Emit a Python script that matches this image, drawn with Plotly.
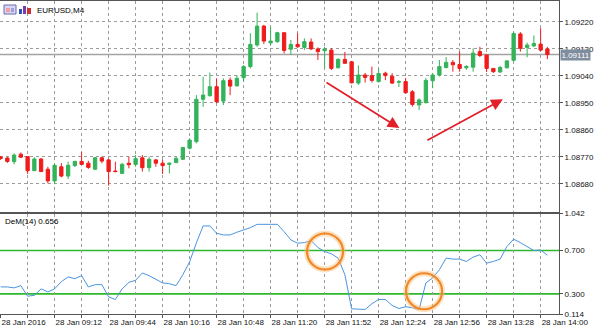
import pandas as pd
import plotly.graph_objects as go
from plotly.subplots import make_subplots

# ---------------- data ----------------
times = pd.date_range("2016-01-28 08:40", periods=82, freq="4min").strftime("%d %b %H:%M").tolist()

opens = [1.08770,1.08766,1.08754,1.08779,1.08771,1.08724,1.08763,1.08729,1.08690,1.08737,
         1.08706,1.08741,1.08755,1.08749,1.08729,1.08767,1.08760,1.08723,1.08715,1.08749,
         1.08745,1.08767,1.08734,1.08760,1.08749,1.08745,1.08751,1.08762,1.08799,1.08821,
         1.08962,1.08974,1.09004,1.08956,1.09026,1.09007,1.09034,1.09071,1.09143,1.09206,
         1.09150,1.09154,1.09184,1.09129,1.09145,1.09135,1.09153,1.09130,1.09124,1.09126,
         1.09067,1.09095,1.09087,1.09016,1.09043,1.09041,1.09021,1.09049,1.09039,1.09019,
         1.09021,1.08987,1.08943,1.08951,1.09024,1.09043,1.09068,1.09085,1.09078,1.09067,
         1.09069,1.09121,1.09110,1.09065,1.09053,1.09067,1.09092,1.09180,1.09135,1.09140,
         1.09146,1.09130]
highs = [1.08773,1.08770,1.08782,1.08785,1.08773,1.08769,1.08766,1.08737,1.08746,1.08749,
         1.08754,1.08757,1.08786,1.08757,1.08770,1.08771,1.08763,1.08754,1.08750,1.08771,
         1.08776,1.08776,1.08771,1.08763,1.08760,1.08751,1.08771,1.08804,1.08832,1.08976,
         1.09037,1.09051,1.09032,1.09032,1.09035,1.09043,1.09076,1.09182,1.09251,1.09210,
         1.09203,1.09187,1.09185,1.09160,1.09182,1.09165,1.09165,1.09135,1.09137,1.09132,
         1.09099,1.09120,1.09090,1.09075,1.09050,1.09071,1.09065,1.09054,1.09049,1.09026,
         1.09033,1.08993,1.08965,1.09033,1.09049,1.09093,1.09103,1.09093,1.09121,1.09076,
         1.09132,1.09137,1.09110,1.09066,1.09073,1.09093,1.09187,1.09186,1.09151,1.09175,
         1.09199,1.09137]
lows = [1.08760,1.08750,1.08745,1.08766,1.08713,1.08723,1.08720,1.08682,1.08679,1.08702,
        1.08696,1.08736,1.08743,1.08730,1.08726,1.08749,1.08674,1.08719,1.08713,1.08732,
        1.08737,1.08721,1.08721,1.08737,1.08713,1.08715,1.08749,1.08760,1.08795,1.08815,
        1.08937,1.08971,1.08949,1.08943,1.08976,1.09004,1.09021,1.09065,1.09137,1.09146,
        1.09143,1.09151,1.09115,1.09110,1.09134,1.09126,1.09126,1.09093,1.09065,1.09060,
        1.09065,1.09081,1.09015,1.09010,1.09018,1.09018,1.09018,1.09026,1.09013,1.09003,
        1.08981,1.08938,1.08926,1.08948,1.08999,1.09038,1.09065,1.09054,1.09054,1.09060,
        1.09054,1.09103,1.09053,1.09050,1.09050,1.09065,1.09088,1.09121,1.09102,1.09136,
        1.09123,1.09096]
closes = [1.08765,1.08755,1.08776,1.08769,1.08724,1.08763,1.08721,1.08690,1.08742,1.08706,
          1.08742,1.08755,1.08745,1.08735,1.08767,1.08756,1.08721,1.08721,1.08745,1.08744,
          1.08764,1.08734,1.08762,1.08749,1.08741,1.08749,1.08765,1.08801,1.08826,1.08962,
          1.08976,1.09004,1.08954,1.09024,1.09006,1.09032,1.09071,1.09145,1.09206,1.09156,
          1.09156,1.09184,1.09125,1.09145,1.09137,1.09154,1.09130,1.09121,1.09130,1.09065,
          1.09095,1.09082,1.09017,1.09043,1.09035,1.09025,1.09048,1.09041,1.09016,1.09021,
          1.08984,1.08945,1.08960,1.09025,1.09043,1.09071,1.09085,1.09077,1.09065,1.09071,
          1.09116,1.09108,1.09065,1.09054,1.09068,1.09090,1.09181,1.09132,1.09143,1.09148,
          1.09126,1.09111]
dem = [0.364,0.364,0.355,0.376,0.278,0.287,0.346,0.318,0.346,0.413,
       0.456,0.440,0.468,0.364,0.385,0.385,0.272,0.248,0.346,0.406,
       0.425,0.493,0.468,0.438,0.401,0.394,0.376,0.477,0.596,0.771,
       0.927,0.927,0.860,0.844,0.844,0.869,0.890,0.911,0.942,0.942,
       0.942,0.942,0.874,0.798,0.768,0.773,0.792,0.728,0.691,0.670,
       0.630,0.477,0.162,0.156,0.156,0.208,0.248,0.248,0.193,0.165,
       0.181,0.172,0.156,0.401,0.447,0.523,0.630,0.621,0.621,0.599,
       0.639,0.661,0.584,0.599,0.621,0.737,0.805,0.773,0.737,0.700,
       0.706,0.656]

price_ticks = [1.08680, 1.08770, 1.08860, 1.08950, 1.09040, 1.09130, 1.09220]
dem_ticks = [0.114, 0.300, 0.700, 1.042]
dem_levels = [0.300, 0.700]
label_bars = [0, 8, 16, 24, 32, 40, 48, 56, 64, 72, 80]
time_labels = ["28 Jan 2016", "28 Jan 09:12", "28 Jan 09:44", "28 Jan 10:16", "28 Jan 10:48",
               "28 Jan 11:20", "28 Jan 11:52", "28 Jan 12:24", "28 Jan 12:56", "28 Jan 13:28",
               "28 Jan 14:00"]
grid_bars = list(range(0, 82, 4))
symbol = "EURUSD,M4"
ind_name = "DeM(14)"
# arrows: (bar, price) tail -> head
arrows = [((48.06, 1.09021), (59.07, 1.08866)), ((63.0, 1.08823), (74.4, 1.08962))]
# circles in DeM panel: (bar, value)
circles = [(48.06, 0.691), (62.73, 0.324)]

# ---------------- layout helpers ----------------
W, H = 600, 332
ML, MR, MT, MB = 0, 41, 1, 18
PW, PH = W - ML - MR, H - MT - MB

def px_x(x):
    return (x - ML) / PW

def px_y(y):
    return (H - MB - y) / PH

FONT = "Liberation Sans, Arial, sans-serif"
GRID = "#9c9c9c"
AXL = "#555555"
GREEN = "#33b35a"
RED = "#f01c1c"

x = list(range(len(times)))

fig = make_subplots(rows=2, cols=1, shared_xaxes=True)

fig.add_trace(go.Candlestick(
    x=x, open=opens, high=highs, low=lows, close=closes, text=times,
    increasing=dict(line=dict(color=GREEN, width=1), fillcolor=GREEN),
    decreasing=dict(line=dict(color=RED, width=1), fillcolor=RED),
    whiskerwidth=0, showlegend=False, hoverinfo="skip"), row=1, col=1)

fig.add_trace(go.Scatter(
    x=x, y=dem, mode="lines", line=dict(color="#4a95e0", width=1),
    showlegend=False, hoverinfo="skip"), row=2, col=1)

xcommon = dict(range=[-0.09, 82.72], tickvals=grid_bars, showgrid=True, gridcolor=GRID,
               griddash="dot", gridwidth=1, zeroline=False, showline=True, mirror=True,
               linecolor=AXL, linewidth=1, rangeslider=dict(visible=False), fixedrange=True,
               automargin=False, tickangle=0)

tick_text = [time_labels[label_bars.index(b)] if b in label_bars else "" for b in grid_bars]

fig.update_layout(
    width=W, height=H, margin=dict(l=ML, r=MR, t=MT, b=MB, autoexpand=False),
    paper_bgcolor="white", plot_bgcolor="white",
    font=dict(family=FONT, size=8, color="#111111"),
    showlegend=False,
    xaxis=dict(**xcommon, showticklabels=False, ticks=""),
    xaxis2=dict(**xcommon, ticktext=tick_text, ticks="outside", ticklen=3, tickcolor=AXL,
                ticklabelposition="outside right", tickfont=dict(size=8)),
    yaxis=dict(domain=[px_y(212), 1], range=[1.085863, 1.092897], side="right",
               tickvals=price_ticks, ticktext=[f"{v:.5f}" for v in price_ticks],
               ticks="outside", ticklen=3, tickcolor=AXL, showgrid=True, gridcolor=GRID,
               griddash="dot", zeroline=False, showline=True, mirror=True, linecolor=AXL,
               linewidth=1, fixedrange=True, automargin=False),
    yaxis2=dict(domain=[0, px_y(213.5)], range=[dem_ticks[0], dem_ticks[-1]], side="right",
                tickvals=dem_ticks, ticktext=[f"{v:.3f}" for v in dem_ticks],
                ticks="outside", ticklen=3, tickcolor=AXL, showgrid=False, zeroline=False,
                showline=True, mirror=True, linecolor=AXL, linewidth=1, fixedrange=True,
                automargin=False),
)

shapes = []
# current price line
shapes.append(dict(type="line", xref="x domain", yref="y", x0=0, x1=1,
                   y0=closes[-1], y1=closes[-1], line=dict(color="#a3a3a3", width=1.5),
                   layer="below"))
# DeM levels
for lv in dem_levels:
    shapes.append(dict(type="line", xref="x2 domain", yref="y2", x0=0, x1=1, y0=lv, y1=lv,
                       line=dict(color="#2cb82c", width=1.6), layer="below"))
# orange circles with glow
for cx, cy in circles:
    for w, col in ((6, "rgba(250,190,120,0.45)"), (2.2, "#f0882a")):
        shapes.append(dict(type="circle", xref="x2", yref="y2", xsizemode="pixel",
                           ysizemode="pixel", xanchor=cx, yanchor=cy, x0=-18, x1=18,
                           y0=-18, y1=18, line=dict(color=col, width=w)))
# title icons
shapes.append(dict(type="rect", xref="paper", yref="paper", x0=px_x(4), x1=px_x(16),
                   y0=px_y(14), y1=px_y(5), fillcolor="#d8d8f4", line=dict(color="#6a6ab0", width=1)))
shapes.append(dict(type="rect", xref="paper", yref="paper", x0=px_x(6), x1=px_x(10),
                   y0=px_y(12), y1=px_y(8), fillcolor="#f0a0a0", line=dict(width=0)))
shapes.append(dict(type="rect", xref="paper", yref="paper", x0=px_x(11), x1=px_x(14),
                   y0=px_y(12), y1=px_y(8), fillcolor="#a0a0e0", line=dict(width=0)))
for bx0, bx1, by, col in ((19, 22, 9, "#3050c0"), (23, 26, 6, "#7040b0"), (27, 31, 8, "#d03030")):
    shapes.append(dict(type="rect", xref="paper", yref="paper", x0=px_x(bx0), x1=px_x(bx1),
                       y0=px_y(14), y1=px_y(by), fillcolor=col, line=dict(width=0)))
fig.update_layout(shapes=shapes)

annotations = []
annotations.append(dict(xref="paper", yref="paper", x=px_x(35), y=px_y(10), text=symbol,
                        showarrow=False, xanchor="left", yanchor="middle",
                        font=dict(size=8, color="#000000")))
annotations.append(dict(xref="paper", yref="paper", x=px_x(3), y=px_y(221),
                        text=f"{ind_name} {dem[-1]:.3f}", showarrow=False, xanchor="left",
                        yanchor="middle", font=dict(size=8, color="#000000")))
# current price tag
annotations.append(dict(xref="paper", yref="y", x=1, y=closes[-1], text=f"{closes[-1]:.5f}",
                        showarrow=False, xanchor="left", yanchor="middle", xshift=1,
                        bgcolor="#7f8e9e", font=dict(size=8, color="#ffffff"),
                        borderpad=0.5))
for (tx, ty), (hx, hy) in arrows:
    annotations.append(dict(xref="x", yref="y", axref="x", ayref="y", x=hx, y=hy, ax=tx, ay=ty,
                            text="", showarrow=True, arrowhead=2, arrowsize=1.3, arrowwidth=1.8,
                            arrowcolor="#e3202a", standoff=0, startstandoff=0))
fig.update_layout(annotations=annotations)

fig.write_html("out.html")
